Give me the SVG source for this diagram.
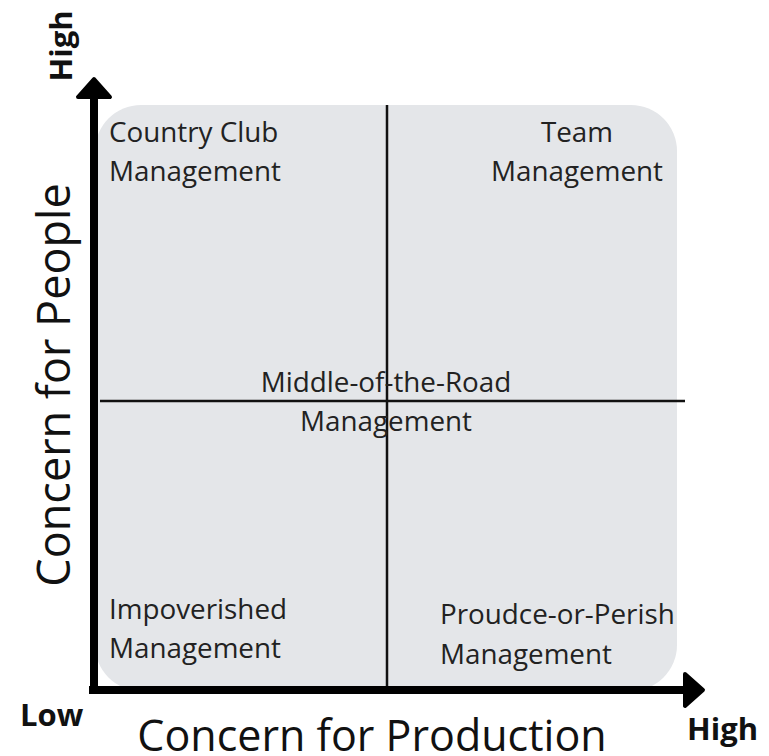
<svg xmlns="http://www.w3.org/2000/svg" width="769" height="756" viewBox="0 0 769 756">
  <style>
    .lbl { font-family: "Open Sans", "Liberation Sans", sans-serif; font-size: 27.8px; fill: #222; }
    .axis-title { font-family: "Open Sans", "Liberation Sans", sans-serif; fill: #111; }
    .tick { font-family: "Open Sans", "Liberation Sans", sans-serif; font-size: 31px; font-weight: bold; fill: #111; }
    .divider { stroke: #111; stroke-width: 2.5; fill: none; }
    .axis { stroke: #000; stroke-width: 8; fill: none; }
  </style>
  <defs>
    <marker id="arrowhead" viewBox="0 0 24 40" refX="2" refY="20" markerWidth="24" markerHeight="40" markerUnits="userSpaceOnUse" orient="auto">
      <path d="M2,4 L20,20 L2,36 Z" fill="#000" stroke="#000" stroke-width="4" stroke-linejoin="round"/>
    </marker>
  </defs>
  <rect width="769" height="756" fill="#fff"/>

  <!-- grid background -->
  <g id="grid">
    <rect x="95" y="105" width="582" height="586" rx="46" ry="46" fill="#e4e6e9"/>
  </g>

  <!-- quadrant dividers and axes -->
  <g id="connectors">
    <line class="divider" x1="387" y1="105" x2="387" y2="690"/>
    <line class="divider" x1="100" y1="401" x2="685" y2="401"/>
    <line class="axis" x1="94" y1="694" x2="94" y2="97" marker-end="url(#arrowhead)"/>
    <line class="axis" x1="89" y1="690" x2="685" y2="690" marker-end="url(#arrowhead)"/>
  </g>

  <g id="country-club">
    <text class="lbl" x="109" y="142">Country Club</text>
    <text class="lbl" x="109" y="181">Management</text>
  </g>
  <g id="team">
    <text class="lbl" x="577" y="142" text-anchor="middle">Team</text>
    <text class="lbl" x="577" y="181" text-anchor="middle">Management</text>
  </g>
  <g id="middle-of-the-road">
    <text class="lbl" x="386" y="392" text-anchor="middle">Middle-of-the-Road</text>
    <text class="lbl" x="386" y="431" text-anchor="middle">Management</text>
  </g>
  <g id="impoverished">
    <text class="lbl" x="109" y="619">Impoverished</text>
    <text class="lbl" x="109" y="658">Management</text>
  </g>
  <g id="produce-or-perish">
    <text class="lbl" x="440" y="624">Proudce-or-Perish</text>
    <text class="lbl" x="440" y="664">Management</text>
  </g>

  <g id="axis-labels">
    <text class="axis-title" font-size="45" transform="translate(70,385) rotate(-90)" text-anchor="middle">Concern for People</text>
    <text class="axis-title" font-size="43" x="372" y="751" text-anchor="middle">Concern for Production</text>
    <text class="tick" transform="translate(72,46) rotate(-90)" text-anchor="middle">High</text>
    <text class="tick" x="20" y="726">Low</text>
    <text class="tick" x="687" y="740">High</text>
  </g>
</svg>
